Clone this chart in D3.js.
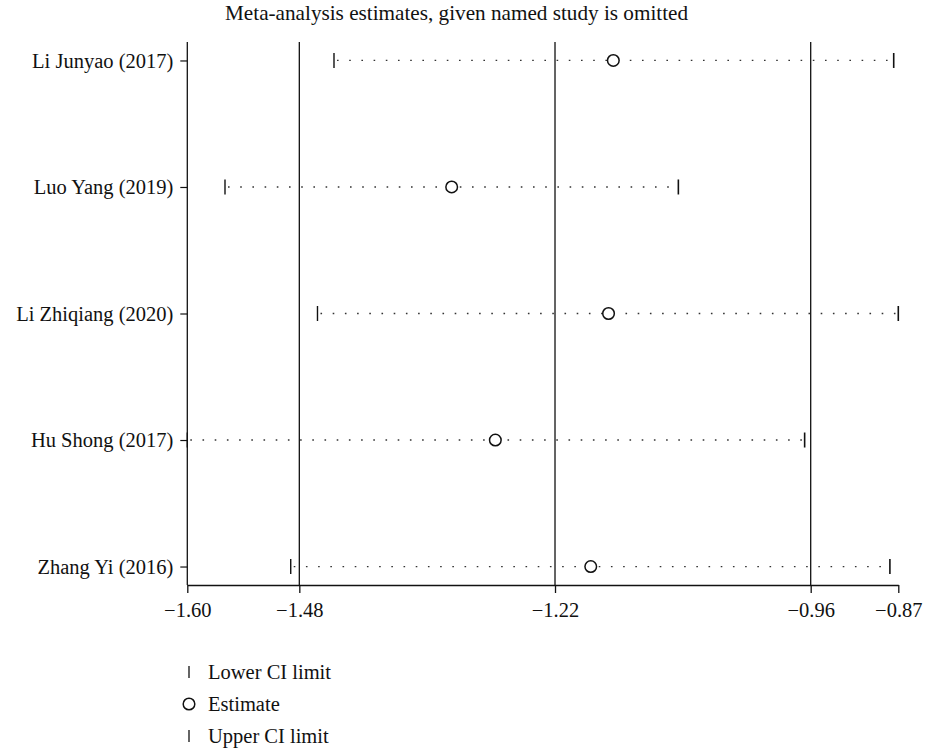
<!DOCTYPE html>
<html>
<head>
<meta charset="utf-8">
<script src="https://cdn.jsdelivr.net/npm/d3@7"></script>
<style>
  html, body { margin: 0; padding: 0; background: #fff; }
  svg text { font-family: "Liberation Serif", "DejaVu Serif", serif; fill: #111; }
</style>
</head>
<body>
<svg id="chart" width="927" height="750"></svg>
<script>
// Studies, top to bottom, with the pooled estimate when each is left out
const studies = ["Li Junyao (2017)", "Luo Yang (2019)", "Li Zhiqiang (2020)", "Hu Shong (2017)", "Zhang Yi (2016)"];
const lowerCI  = [-1.4458, -1.5574, -1.4627, -1.5960, -1.4901];
const estimate = [-1.1598, -1.3253, -1.1647, -1.2806, -1.1829];
const upperCI  = [-0.8727, -1.0932, -0.8680, -0.9639, -0.8766];

// Pooled result using all studies: lower limit, estimate, upper limit
const overall = [-1.4813, -1.2195, -0.9577];

// Axis runs from the smallest lower limit to the largest upper limit
const axisTicks = [d3.min(lowerCI), ...overall, d3.max(upperCI)];
const tickLabels = ["\u22121.60", "\u22121.48", "\u22121.22", "\u22120.96", "\u22120.87"];

const title = "Meta-analysis estimates, given named study is omitted";
const legendItems = ["Lower CI limit", "Estimate", "Upper CI limit"];

const svg = d3.select("#chart");
const fontSize = 20.5;

const plotTop = 42, plotBottom = 585;
const x = d3.scaleLinear()
  .domain([d3.min(lowerCI), d3.max(upperCI)])
  .range([187.3, 898.3]);
const y = d3.scalePoint()
  .domain(studies)
  .range([plotTop, plotBottom])
  .padding(0.146);

// Title
svg.append("text")
  .attr("x", 225).attr("y", 20)
  .attr("font-size", 21.2)
  .text(title);

// Reference lines at the pooled limits and estimate
svg.append("g")
  .selectAll("line")
  .data(overall)
  .join("line")
  .attr("x1", d => x(d)).attr("x2", d => x(d))
  .attr("y1", plotTop).attr("y2", plotBottom)
  .attr("stroke", "#111").attr("stroke-width", 1.3);

// Y axis (left)
const yAxis = svg.append("g")
  .attr("transform", `translate(${x.range()[0]},0)`)
  .call(d3.axisLeft(y).tickSize(7).tickPadding(7));
yAxis.select(".domain")
  .attr("d", `M0,${plotTop}V${plotBottom}`)
  .attr("stroke", "#111").attr("stroke-width", 1.3);
yAxis.selectAll(".tick line").attr("stroke", "#111").attr("stroke-width", 1.2);
yAxis.selectAll(".tick text")
  .attr("font-size", fontSize)
  .attr("font-family", "Liberation Serif, serif")
  .attr("fill", "#111");

// X axis (bottom)
const xAxis = svg.append("g")
  .attr("transform", `translate(0,${plotBottom})`)
  .call(d3.axisBottom(x)
    .tickValues(axisTicks)
    .tickFormat((d, i) => tickLabels[i])
    .tickSize(8).tickPadding(9)
    .tickSizeOuter(0));
xAxis.select(".domain").attr("stroke", "#111").attr("stroke-width", 1.3);
xAxis.selectAll(".tick line").attr("stroke", "#111").attr("stroke-width", 1.3);
xAxis.selectAll(".tick text")
  .attr("font-size", fontSize)
  .attr("font-family", "Liberation Serif, serif")
  .attr("fill", "#111");

// Dotted interval lines
const rows = studies.map((s, i) => ({ s, lo: lowerCI[i], est: estimate[i], hi: upperCI[i] }));
const marks = svg.append("g");
marks.selectAll("line.ci")
  .data(rows)
  .join("line")
  .attr("class", "ci")
  .attr("x1", d => x(d.lo) + 3).attr("x2", d => x(d.hi))
  .attr("y1", d => y(d.s)).attr("y2", d => y(d.s))
  .attr("stroke", "#333").attr("stroke-width", 1.3)
  .attr("stroke-dasharray", "1.6,10.6");

// Limit ticks
const tickH = 7.5;
marks.selectAll("line.lo")
  .data(rows)
  .join("line")
  .attr("class", "lo")
  .attr("x1", d => x(d.lo)).attr("x2", d => x(d.lo))
  .attr("y1", d => y(d.s) - tickH).attr("y2", d => y(d.s) + tickH)
  .attr("stroke", "#111").attr("stroke-width", 1.4);
marks.selectAll("line.hi")
  .data(rows)
  .join("line")
  .attr("class", "hi")
  .attr("x1", d => x(d.hi)).attr("x2", d => x(d.hi))
  .attr("y1", d => y(d.s) - tickH).attr("y2", d => y(d.s) + tickH)
  .attr("stroke", "#111").attr("stroke-width", 1.6);

// Estimates
marks.selectAll("circle")
  .data(rows)
  .join("circle")
  .attr("cx", d => x(d.est)).attr("cy", d => y(d.s))
  .attr("r", 5.8)
  .attr("fill", "#fff").attr("stroke", "#111").attr("stroke-width", 1.5);

// Legend
const legend = svg.append("g");
const legendY = [672, 704, 736];
const legendX = 189;
legendItems.forEach((label, i) => {
  const cy = legendY[i];
  if (i === 1) {
    legend.append("circle")
      .attr("cx", legendX).attr("cy", cy).attr("r", 5.8)
      .attr("fill", "#fff").attr("stroke", "#111").attr("stroke-width", 1.5);
  } else {
    legend.append("line")
      .attr("x1", legendX).attr("x2", legendX)
      .attr("y1", cy - 6).attr("y2", cy + 6)
      .attr("stroke", "#111").attr("stroke-width", 1.3);
  }
  legend.append("text")
    .attr("x", 208).attr("y", cy)
    .attr("dy", "0.35em")
    .attr("font-size", fontSize)
    .text(label);
});
</script>
</body>
</html>
